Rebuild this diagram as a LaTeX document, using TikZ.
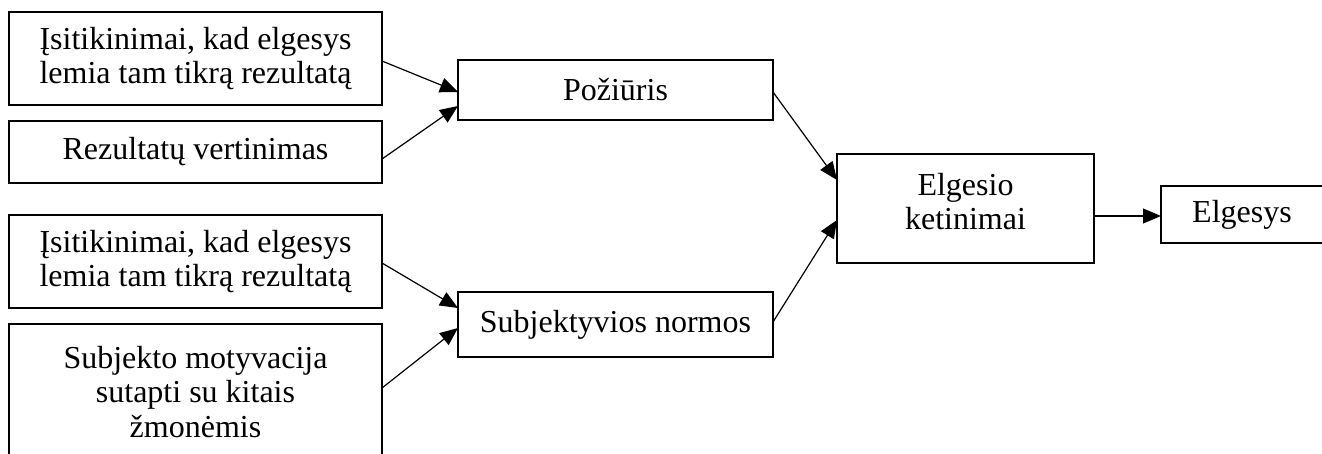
\documentclass[tikz,border=0pt]{standalone}
\usepackage{fontspec}
\setmainfont{Liberation Serif}
\usetikzlibrary{arrows.meta,calc}
\tikzset{
  box/.style={draw=black, line width=0.65pt, inner sep=0pt, outer sep=0pt, align=center,
    font=\fontsize{16pt}{17.2pt}\selectfont},
  arr/.style={line width=0.6pt, -{Triangle[length=9pt,width=7.5pt]}}
}
\begin{document}
\begin{tikzpicture}[x=0.5pt,y=-0.5pt]
\useasboundingbox (0,0) rectangle (1322,454);
\clip (0,0) rectangle (1322,454);
\node[box, minimum width=186.5pt, minimum height=46.5pt] (b1) at (195.5,58.5)
  {Įsitikinimai, kad elgesys\\lemia tam tikrą rezultatą};
\node[box, minimum width=186.5pt, minimum height=31pt] (b2) at (195.5,152)
  {Rezultatų vertinimas};
\node[box, minimum width=186.5pt, minimum height=46.5pt] (b6) at (195.5,261.5)
  {Įsitikinimai, kad elgesys\\lemia tam tikrą rezultatą};
\node[box, minimum width=186.5pt, minimum height=68pt] (b7) at (195.5,392)
  {Subjekto motyvacija\\sutapti su kitais\\žmonėmis};
\node[box, minimum width=157.5pt, minimum height=30pt] (poz) at (615.5,90)
  {Požiūris};
\node[box, minimum width=157.5pt, minimum height=32.5pt] (subj) at (615.5,324.5)
  {Subjektyvios normos};
\node[box, minimum width=128.5pt, minimum height=54.5pt, text depth=7pt] (ket) at (965.5,208.5)
  {Elgesio\\ketinimai};
\node[box, minimum width=81pt, minimum height=28.5pt] (elg) at (1242,214.5)
  {Elgesys};
\draw[arr] ($(b1.east)+(0,2.5)$) -- ($(poz.west)+(0,2)$);
\draw[arr] ($(b2.east)+(0,7)$) -- ($(poz.west)+(0,16)$);
\draw[arr] ($(b6.east)+(0,1.5)$) -- ($(subj.west)+(0,-16.5)$);
\draw[arr] ($(b7.east)+(0,-4)$) -- ($(subj.west)+(0,3.5)$);
\draw[arr] ($(poz.east)+(0,2)$) -- ($(ket.west)+(0,-28.5)$);
\draw[arr] ($(subj.east)+(0,-2.5)$) -- ($(ket.west)+(0,11.5)$);
\draw[arr] ($(ket.east)+(0,7.5)$) -- ($(elg.west)+(0,1.5)$);
\end{tikzpicture}
\end{document}
